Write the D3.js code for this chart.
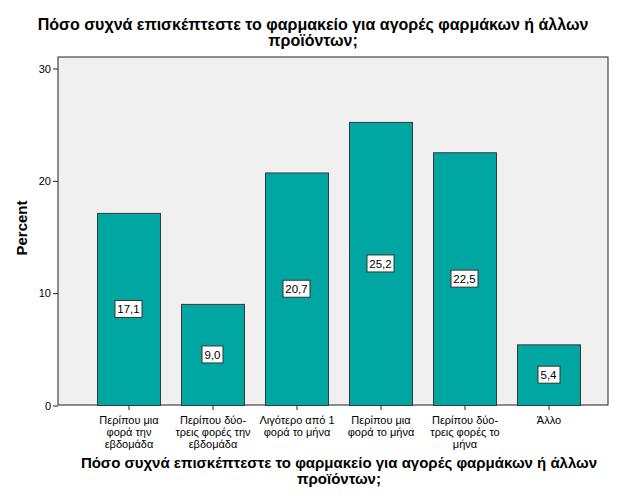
<!DOCTYPE html>
<html>
<head>
<meta charset="utf-8">
<script src="https://cdn.jsdelivr.net/npm/d3@7"></script>
<style>
  body { margin: 0; background: #fff; }
  text { font-family: "Liberation Sans", Arial, sans-serif; }
</style>
</head>
<body>
<svg id="chart" width="626" height="501"></svg>
<script>
var categories = [
  ['Περίπου μια', 'φορά την', 'εβδομάδα'],
  ['Περίπου δύο-', 'τρεις φορές την', 'εβδομάδα'],
  ['Λιγότερο από 1', 'φορά το μήνα'],
  ['Περίπου μια', 'φορά το μήνα'],
  ['Περίπου δύο-', 'τρεις φορές το', 'μήνα'],
  ['Άλλο']
];
var percents = [17.1, 9.0, 20.7, 25.2, 22.5, 5.4];
var yTicks = [0, 10, 20, 30];
var titleLines = ['Πόσο συχνά επισκέπτεστε το φαρμακείο για αγορές φαρμάκων ή άλλων', 'προϊόντων;'];

var svg = d3.select('#chart');
var frame = {left: 58, top: 57, right: 608, bottom: 405};

// plot background
svg.append('rect')
  .attr('x', frame.left).attr('y', frame.top)
  .attr('width', frame.right - frame.left).attr('height', frame.bottom - frame.top)
  .attr('fill', '#f0f0f0').attr('stroke', '#222').attr('stroke-width', 1);

var idx = d3.range(categories.length);
var x = d3.scaleBand().domain(idx).range([86.5, 590.5]).paddingInner(0.25).paddingOuter(0.125);
var y = d3.scaleLinear().domain([0, 30]).range([405, 68]);

// bars
svg.selectAll('rect.bar').data(idx).enter().append('rect')
  .attr('class', 'bar')
  .attr('x', function(i) { return x(i) + 0.5; })
  .attr('y', function(i) { return y(percents[i]) + 0.5; })
  .attr('width', x.bandwidth())
  .attr('height', function(i) { return y(0) - y(percents[i]); })
  .attr('fill', '#00a6a2')
  .attr('stroke', '#3a3a3a').attr('stroke-width', 1);

// value labels
var fmt = function(v) { return d3.format('.1f')(v).replace('.', ','); };
var lab = svg.selectAll('g.lab').data(idx).enter().append('g')
  .attr('class', 'lab')
  .attr('transform', function(i) {
    return 'translate(' + (x(i) + x.bandwidth() / 2) + ',' + ((y(percents[i]) + y(0)) / 2) + ')';
  });
lab.append('text')
  .attr('text-anchor', 'middle').attr('dy', '0.36em')
  .attr('font-size', 11.5).attr('fill', '#000')
  .text(function(i) { return fmt(percents[i]); })
  .each(function() {
    var b = this.getBBox();
    d3.select(this.parentNode).insert('rect', 'text')
      .attr('x', Math.round(b.x) - 2.5).attr('y', -8.5)
      .attr('width', Math.round(b.width) + 5).attr('height', 17)
      .attr('fill', '#fff').attr('stroke', '#333').attr('stroke-width', 1);
  });

// y axis
var yAxis = svg.append('g')
  .attr('transform', 'translate(' + frame.left + ',0.5)')
  .call(d3.axisLeft(y).tickValues(yTicks).tickSize(5).tickPadding(2));
yAxis.select('.domain').remove();
yAxis.selectAll('line').attr('stroke', '#222');
yAxis.selectAll('text').attr('font-size', 11).attr('fill', '#000')
  .style('font-family', '"Liberation Sans", Arial, sans-serif');

// x axis ticks
var xAxis = svg.append('g')
  .attr('transform', 'translate(0.5,' + frame.bottom + ')')
  .call(d3.axisBottom(x).tickSize(5).tickFormat(''));
xAxis.select('.domain').remove();
xAxis.selectAll('line').attr('stroke', '#222');

// x category labels
svg.selectAll('text.cat').data(idx).enter().append('text')
  .attr('class', 'cat')
  .attr('text-anchor', 'middle')
  .attr('font-size', 11).attr('fill', '#000')
  .attr('transform', function(i) { return 'translate(' + (x(i) + x.bandwidth() / 2 + 0.5) + ',424)'; })
  .selectAll('tspan').data(function(i) { return categories[i]; }).enter().append('tspan')
  .attr('x', 0).attr('dy', function(d, k) { return k === 0 ? 0 : 12; })
  .text(function(d) { return d; });

// titles
svg.append('text').attr('text-anchor', 'middle').attr('font-size', 16).attr('font-weight', 'bold')
  .attr('transform', 'translate(313,30)')
  .selectAll('tspan').data(titleLines).enter().append('tspan')
  .attr('x', 0).attr('dy', function(d, k) { return k === 0 ? 0 : 16; })
  .text(function(d) { return d; });

svg.append('text').attr('text-anchor', 'middle').attr('font-size', 15).attr('font-weight', 'bold')
  .attr('transform', 'translate(339,468)')
  .selectAll('tspan').data(titleLines).enter().append('tspan')
  .attr('x', 0).attr('dy', function(d, k) { return k === 0 ? 0 : 16; })
  .text(function(d) { return d; });

svg.append('text').attr('text-anchor', 'middle').attr('font-size', 15).attr('font-weight', 'bold')
  .attr('transform', 'translate(27,228) rotate(-90)')
  .text('Percent');
</script>
</body>
</html>
